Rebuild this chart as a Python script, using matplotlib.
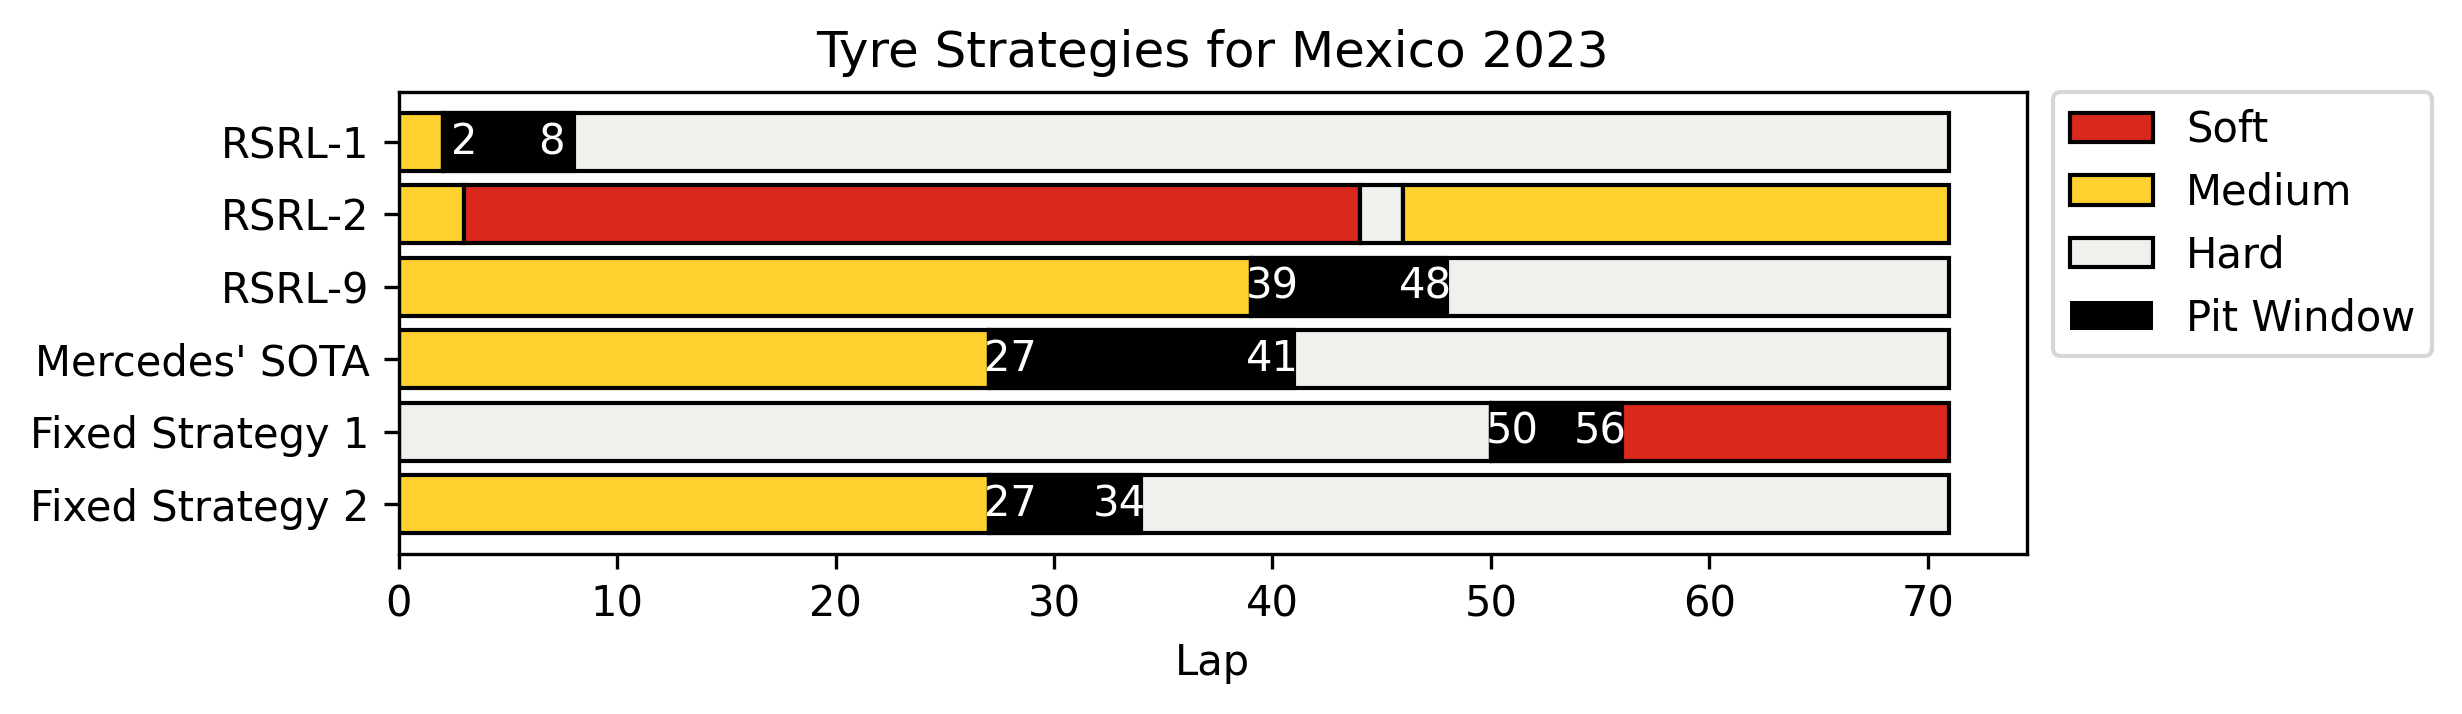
import matplotlib
matplotlib.use("Agg")
import matplotlib.pyplot as plt
from matplotlib.patches import Patch

strategies = ["RSRL-1", "RSRL-2", "RSRL-9", "Mercedes' SOTA", "Fixed Strategy 1", "Fixed Strategy 2"]
stint_compounds = [
    ["Medium", "Hard"],
    ["Medium", "Soft", "Hard", "Medium"],
    ["Medium", "Hard"],
    ["Medium", "Hard"],
    ["Hard", "Soft"],
    ["Medium", "Hard"],
]
stint_starts = [
    [0, 2],
    [0, 3, 44, 46],
    [0, 39],
    [0, 27],
    [0, 50],
    [0, 27],
]
stint_ends = [
    [2, 71],
    [3, 44, 46, 71],
    [39, 71],
    [27, 71],
    [50, 71],
    [27, 71],
]
pit_window_start = [2, None, 39, 27, 50, 27]
pit_window_end = [8, None, 48, 41, 56, 34]

compound_colors = {"Soft": "#da291c", "Medium": "#ffd12e", "Hard": "#f0f0ec"}

fig = plt.figure(figsize=(2462 / 300, 714 / 300), dpi=300)
ax = fig.add_axes([0.162, 0.224, 0.6613, 0.6471])

for i, name in enumerate(strategies):
    for comp, s, e in zip(stint_compounds[i], stint_starts[i], stint_ends[i]):
        ax.barh(name, e - s, left=s, height=0.8, color=compound_colors[comp],
                edgecolor="black", linewidth=1)
    ws, we = pit_window_start[i], pit_window_end[i]
    if ws is not None:
        ax.barh(name, we - ws, left=ws, height=0.8, color="black", edgecolor="black", linewidth=1)
        ax.text(ws + 1, i, str(ws), color="white", ha="center", va="center", fontsize=10)
        ax.text(we - 1, i, str(we), color="white", ha="center", va="center", fontsize=10)

ax.invert_yaxis()
ax.set_xlabel("Lap")
ax.set_title("Tyre Strategies for Mexico 2023")

handles = [
    Patch(facecolor=compound_colors["Soft"], edgecolor="black", label="Soft"),
    Patch(facecolor=compound_colors["Medium"], edgecolor="black", label="Medium"),
    Patch(facecolor=compound_colors["Hard"], edgecolor="black", label="Hard"),
    Patch(facecolor="black", label="Pit Window"),
]
ax.legend(handles=handles, loc="upper left", bbox_to_anchor=(1.016, 1.0), borderaxespad=0)

fig.savefig("out.png", dpi=300)
